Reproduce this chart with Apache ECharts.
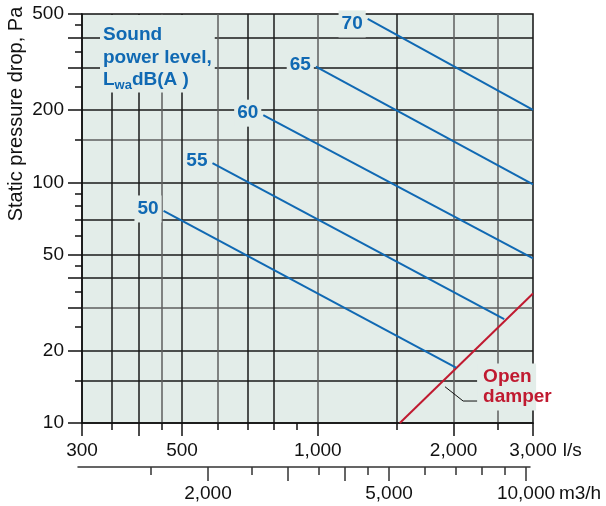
<!DOCTYPE html>
<html><head><meta charset="utf-8">
<script src="https://cdn.jsdelivr.net/npm/echarts@6/dist/echarts.min.js"></script>
<style>html,body{margin:0;padding:0;background:#fff}#c{width:606px;height:506px}</style>
</head><body><div id="c"></div>
<script>
// ---- data (l/s , Pa) ----
const sound50 = [[455, 76], [2025, 17]];
const sound55 = [[584, 120], [2590, 27]];
const sound60 = [[757, 190], [3000, 48.3]];
const sound65 = [[990, 302], [3000, 98]];
const sound70 = [[1290, 477], [3000, 200]];
const openDamper = [[1520, 10], [3000, 34.5]];
const damperLeader = [[1914, 14.15], [2100, 12.34], [2290, 12.34]];

// ---- axis ticks ----
const flowLongTicks = [300, 400, 500, 1000, 2000, 3000];
const flowShortTicks = [350, 450, 600, 700, 800, 900, 1500, 2500];
const flowLabels = [300, 500, 1000, 2000, 3000];
const flowGridDark = [350, 400, 500, 700, 800, 1500];
const flowGridGray = [450, 600, 1000, 2000, 2500];
const pLongTicks = [10, 20, 30, 40, 50, 100, 200, 300, 400, 500];
const pShortTicks = [15, 25, 35, 45, 60, 70, 80, 90, 150, 250, 350, 450];
const pLabels = [10, 20, 50, 100, 200, 500];
const pGridDark = [15, 20, 40, 50, 70, 100, 200, 300, 400];
const pGridGray = [30, 150];
const m3hLongTicks = [2000, 3000, 4000, 5000, 10000];
const m3hShortTicks = [1500, 2500, 3500, 4500, 6000, 7000, 8000, 9000];
const m3hLabels = [2000, 5000, 10000];

const FONT = '"Liberation Sans", Arial, Helvetica, sans-serif';
const BG = '#e3ede9';
const BLUE = '#1069b3';
const RED = '#c01a30';
const INK = '#111';
const fmt = v => Math.round(v).toLocaleString('en-US');

function xAxisDef(o) {
  return Object.assign({
    type: 'log', logBase: 10, min: 300, max: 3000, gridIndex: 0, position: 'bottom',
    axisLine: { show: false }, axisLabel: { show: false },
    axisTick: { show: false }, splitLine: { show: false }, minorTick: { show: false }
  }, o);
}
function yAxisDef(o) {
  return Object.assign({
    type: 'log', logBase: 10, min: 10, max: 500, gridIndex: 0, position: 'left',
    axisLine: { show: false }, axisLabel: { show: false },
    axisTick: { show: false }, splitLine: { show: false }, minorTick: { show: false }
  }, o);
}
const tickStyle = { color: INK, width: 1.5 };

const xAxes = [
  xAxisDef({
    axisLine: { show: true, lineStyle: { color: INK, width: 1.5 } },
    axisTick: { show: true, length: 13, inside: false, customValues: flowLongTicks, lineStyle: tickStyle },
    axisLabel: { show: true, customValues: flowLabels, formatter: fmt, margin: 18, color: INK, fontSize: 19, fontFamily: FONT },
    name: 'l/s', nameLocation: 'end', nameGap: 27,
    nameTextStyle: { color: INK, fontSize: 19, fontFamily: FONT, verticalAlign: 'top', align: 'left', padding: [18, 0, 0, 0] }
  }),
  xAxisDef({ axisTick: { show: true, length: 7, customValues: flowShortTicks, lineStyle: tickStyle } }),
  xAxisDef({ axisTick: { show: false, customValues: flowGridDark }, splitLine: { show: true, lineStyle: { color: '#1a1a1a', width: 1.5 } } }),
  xAxisDef({ axisTick: { show: false, customValues: flowGridGray }, splitLine: { show: true, lineStyle: { color: '#5e5e5e', width: 1.5 } } }),
  {
    type: 'log', logBase: 10, min: 1036, max: 10205, gridIndex: 1, position: 'bottom',
    axisLine: { show: true, lineStyle: { color: '#333', width: 1.5 } },
    axisTick: { show: true, length: 14, customValues: m3hLongTicks, lineStyle: { color: '#333', width: 1.5 } },
    axisLabel: { show: true, customValues: m3hLabels, formatter: fmt, margin: 17, color: INK, fontSize: 19, fontFamily: FONT },
    splitLine: { show: false }, minorTick: { show: false },
    name: 'm3/h', nameLocation: 'end', nameGap: 22,
    nameTextStyle: { color: INK, fontSize: 19, fontFamily: FONT, verticalAlign: 'top', align: 'left', padding: [17, 0, 0, 0] }
  },
  {
    type: 'log', logBase: 10, min: 1036, max: 10205, gridIndex: 1, position: 'bottom',
    axisLine: { show: false }, axisLabel: { show: false }, splitLine: { show: false }, minorTick: { show: false },
    axisTick: { show: true, length: 8, customValues: m3hShortTicks, lineStyle: { color: '#333', width: 1.5 } }
  }
];

const yAxes = [
  yAxisDef({
    axisLine: { show: true, lineStyle: { color: INK, width: 1.5 } },
    axisTick: { show: true, length: 14, customValues: pLongTicks, lineStyle: tickStyle },
    axisLabel: { show: true, customValues: pLabels, formatter: fmt, margin: 18, color: INK, fontSize: 19, fontFamily: FONT }
  }),
  yAxisDef({ axisTick: { show: true, length: 7, customValues: pShortTicks, lineStyle: tickStyle } }),
  yAxisDef({ axisTick: { show: false, customValues: pGridDark }, splitLine: { show: true, lineStyle: { color: '#1a1a1a', width: 1.5 } } }),
  yAxisDef({ axisTick: { show: false, customValues: pGridGray }, splitLine: { show: true, lineStyle: { color: '#5e5e5e', width: 1.5 } } }),
  { type: 'value', gridIndex: 1, show: false, min: 0, max: 1 }
];

function soundSeries(level, data, dy) {
  return {
    type: 'line', xAxisIndex: 0, yAxisIndex: 0, silent: true, z: 5,
    symbol: 'circle', symbolSize: 0, showSymbol: true,
    lineStyle: { color: BLUE, width: 2 }, itemStyle: { color: BLUE },
    data: data.map((d, i) => i === 0
      ? { value: d, label: { show: true } }
      : { value: d }),
    label: {
      show: false, position: 'left', distance: 2, offset: [0, dy], formatter: String(level),
      color: BLUE, fontSize: 19, fontWeight: 'bold', fontFamily: FONT,
      backgroundColor: BG, padding: [5, 3, 3, 3]
    },
    emphasis: { disabled: true }
  };
}

const option = {
  animation: false,
  backgroundColor: '#fff',
  grid: [
    { left: 82, top: 14, width: 451, height: 409, show: true, backgroundColor: BG, borderColor: INK, borderWidth: 1.5, containLabel: false, outerBoundsMode: 'none' },
    { left: 78, top: 466, width: 452, height: 1, show: false, containLabel: false, outerBoundsMode: 'none' }
  ],
  xAxis: xAxes,
  yAxis: yAxes,
  title: {
    text: 'Sound\npower level,\n{l|L}{s|wa}{l|dB(A )}',
    left: 100, top: 15, padding: [9, 3, 1, 3], backgroundColor: BG, z: 3,
    textStyle: {
      color: BLUE, fontSize: 19, fontWeight: 'bold', fontFamily: FONT, lineHeight: 22.5,
      rich: {
        l: { color: BLUE, fontSize: 19, fontWeight: 'bold', fontFamily: FONT, lineHeight: 22.5 },
        s: { color: BLUE, fontSize: 13, fontWeight: 'bold', fontFamily: FONT, lineHeight: 18, verticalAlign: 'bottom' }
      }
    }
  },
  graphic: [{
    type: 'text', x: 16, y: 114, rotation: Math.PI / 2, silent: true,
    style: { text: 'Static pressure drop, Pa', fill: INK, fontSize: 20, fontFamily: FONT,
      align: 'center', verticalAlign: 'middle', textAlign: 'center', textVerticalAlign: 'middle' }
  }],
  series: [
    soundSeries(50, sound50, -2),
    soundSeries(55, sound55, -2),
    soundSeries(60, sound60, -2),
    soundSeries(65, sound65, -2),
    soundSeries(70, sound70, 5),
    {
      type: 'line', xAxisIndex: 0, yAxisIndex: 0, silent: true, z: 4,
      showSymbol: false, symbol: 'none',
      lineStyle: { color: RED, width: 2 }, data: openDamper, emphasis: { disabled: true }
    },
    {
      type: 'line', xAxisIndex: 0, yAxisIndex: 0, silent: true, z: 6,
      symbol: 'circle', symbolSize: 0, showSymbol: true,
      lineStyle: { color: INK, width: 1 }, itemStyle: { color: INK },
      data: damperLeader.map((d, i) => i === damperLeader.length - 1
        ? { value: d, label: { show: true } } : { value: d }),
      label: {
        show: false, position: 'right', distance: -3, offset: [0, -14],
        formatter: 'Open\ndamper', color: RED, fontSize: 19, fontWeight: 'bold', fontFamily: FONT,
        lineHeight: 20, backgroundColor: BG, padding: [3, 0, 4, 6], width: 53, overflow: 'none', align: 'left'
      },
      emphasis: { disabled: true }
    }
  ]
};

const chart = echarts.init(document.getElementById('c'), null, { renderer: 'canvas' });
chart.setOption(option);
</script>
</body></html>
